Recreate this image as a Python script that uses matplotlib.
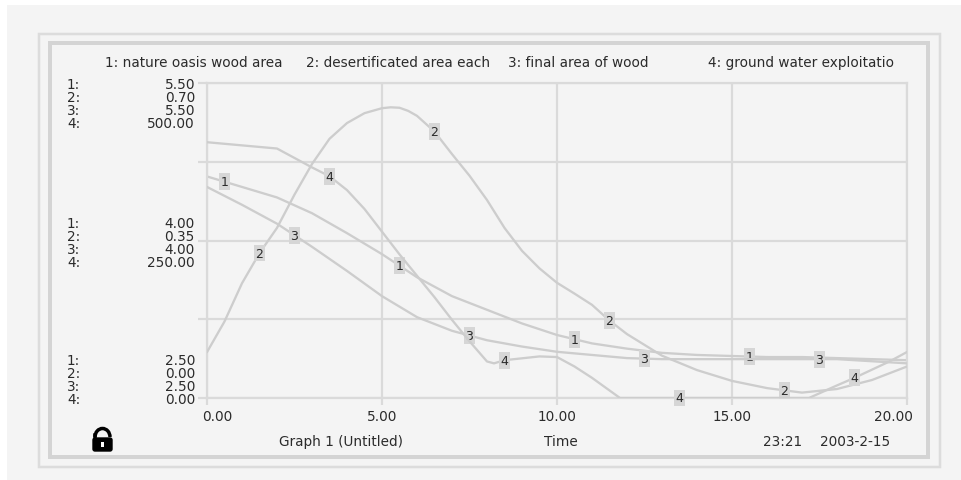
import numpy as np
import matplotlib
matplotlib.use('Agg')
import matplotlib.pyplot as plt
from matplotlib.patches import Rectangle, Arc, FancyBboxPatch
import matplotlib.transforms as mtransforms

plt.rcParams['font.family'] = ['DejaVu Sans']

# --- data ---
series_names = ['1: nature oasis wood area', '2: desertificated area each',
                '3: final area of wood', '4: ground water exploitatio']
scale_lo = [2.5, 0.0, 2.5, 0.0]
scale_hi = [5.5, 0.7, 5.5, 500.0]
scale_fmt = ['{:.2f}', '{:.2f}', '{:.2f}', '{:.2f}']

time_ticks = [0, 5, 10, 15, 20]
time_tick_labels = ['0.00', '5.00', '10.00', '15.00', '20.00']

t_oasis = [0, 1, 2, 3, 4, 5, 6, 7, 8, 9, 10, 11, 12, 13, 14, 15, 16, 17, 18, 19, 20]
oasis_wood = [4.61, 4.51, 4.41, 4.26, 4.07, 3.87, 3.65, 3.47, 3.34, 3.21, 3.10,
              3.02, 2.97, 2.93, 2.91, 2.90, 2.89, 2.89, 2.88, 2.87, 2.86]

t_desert = [0, 0.5, 1, 1.5, 2, 2.5, 3, 3.5, 4, 4.5, 5, 5.25, 5.5, 5.75, 6, 6.5, 7,
            7.5, 8, 8.5, 9, 9.5, 10, 10.5, 11, 11.5, 12, 13, 14, 15, 16, 17, 18, 19, 20]
desert_area = [0.102, 0.17, 0.255, 0.322, 0.378, 0.452, 0.52, 0.576, 0.611, 0.633,
               0.644, 0.646, 0.645, 0.638, 0.627, 0.592, 0.542, 0.494, 0.44, 0.378,
               0.327, 0.288, 0.256, 0.232, 0.207, 0.172, 0.142, 0.094, 0.062, 0.038,
               0.022, 0.012, 0.02, 0.04, 0.07]

t_final = [0, 1, 2, 3, 4, 5, 6, 7, 8, 9, 10, 11, 12, 13, 14, 15, 16, 17, 18, 19, 20]
final_wood = [4.51, 4.34, 4.16, 3.94, 3.71, 3.47, 3.27, 3.14, 3.05, 2.99, 2.94,
              2.91, 2.88, 2.87, 2.87, 2.87, 2.87, 2.87, 2.87, 2.85, 2.83]

t_water = [0, 1, 2, 2.5, 3, 3.5, 4, 4.5, 5, 5.5, 6, 6.5, 7, 7.5, 8, 8.2, 8.5, 9,
           9.5, 10, 10.5, 11, 11.5, 11.8, 17.2, 18, 18.5, 19, 19.5, 20]
water_exploit = [406, 401, 396, 381, 366, 352, 330, 300, 264, 228, 194, 160, 124,
                 90, 58, 55, 60, 63, 66, 65, 50, 32, 12, 0, 0, 20, 32, 45, 58, 73]

W, H = 962, 481
bg = '#f4f4f4'
grid_c = '#dadada'
line_c = '#cdcdcd'
txt_c = '#2b2b2b'
fs = 9.8
px = 0.72  # points per pixel at 100 dpi

fig = plt.figure(figsize=(W / 100, H / 100), dpi=100)
fig.patch.set_facecolor('white')

# decoration layer in pixel coordinates
deco = fig.add_axes([0, 0, 1, 1], zorder=0)
deco.set_xlim(0, W)
deco.set_ylim(H, 0)
deco.axis('off')
deco.add_patch(Rectangle((7, 6), W, H, fc=bg, ec='none'))
deco.add_patch(Rectangle((39, 35), 901, 433, fc='none', ec='#dcdcdc', lw=2.5 * px))
deco.add_patch(Rectangle((50, 44), 878, 414, fc='none', ec='#d4d4d4', lw=4 * px))

# header
for name, x in zip(series_names, [105, 306, 508, 708]):
    deco.text(x, 63, name, fontsize=fs, color=txt_c, ha='left', va='center')

# left scale blocks
block_rows = [[85, 98, 111, 124], [224, 237, 250, 263], [361, 374, 387, 400]]
block_frac = [1.0, 0.5, 0.0]
for rows, fr in zip(block_rows, block_frac):
    for i, y in enumerate(rows):
        val = scale_lo[i] + fr * (scale_hi[i] - scale_lo[i])
        deco.text(67, y, f'{i + 1}:', fontsize=fs, color=txt_c, ha='left', va='center')
        deco.text(195, y, scale_fmt[i].format(val), fontsize=fs, color=txt_c,
                  ha='right', va='center')

# footer
deco.text(279, 442, 'Graph 1 (Untitled)', fontsize=fs, color=txt_c, ha='left', va='center')
deco.text(561, 442, 'Time', fontsize=fs, color=txt_c, ha='center', va='center')
deco.text(763, 442, '23:21', fontsize=fs, color=txt_c, ha='left', va='center')
deco.text(820, 442, '2003-2-15', fontsize=fs, color=txt_c, ha='left', va='center')

# unlocked padlock icon
deco.add_patch(FancyBboxPatch((93, 439), 19, 13, boxstyle='round,pad=0,rounding_size=2',
                              fc='black', ec='black'))
deco.add_patch(Arc((102.5, 438), 15, 17, theta1=180, theta2=360, color='black', lw=3.5 * px))
deco.plot([95, 95], [438, 436], color='black', lw=3.5 * px)
deco.add_patch(Rectangle((101, 443), 3, 5, fc='white', ec='none'))

# plot area
rect = [207 / W, 1 - 399 / H, 700 / W, 315 / H]
ax = fig.add_axes(rect, zorder=1)
ax.set_facecolor('none')
ax.set_xlim(0, 20)
ax.set_ylim(scale_lo[0], scale_hi[0])
ax.set_xticks(time_ticks)
ax.set_xticklabels(time_tick_labels)
ax.set_yticks(np.linspace(scale_lo[0], scale_hi[0], 5))
ax.grid(True, color=grid_c, lw=2.2 * px)
for s in ax.spines.values():
    s.set_color(grid_c)
    s.set_linewidth(2.2 * px)
ax.tick_params(axis='y', length=9 * px, width=2.2 * px, color=grid_c, labelleft=False)
ax.tick_params(axis='x', length=7 * px, width=2.2 * px, color=grid_c,
               labelsize=fs, labelcolor=txt_c, pad=3)
labels = ax.get_xticklabels()
labels[0].set_ha('left')
labels[0].set_transform(labels[0].get_transform() +
                        mtransforms.ScaledTranslation(-5 / 100, 0, fig.dpi_scale_trans))
labels[-1].set_ha('right')
labels[-1].set_transform(labels[-1].get_transform() +
                         mtransforms.ScaledTranslation(6 / 100, 0, fig.dpi_scale_trans))

series_t = [t_oasis, t_desert, t_final, t_water]
series_v = [oasis_wood, desert_area, final_wood, water_exploit]
axes = [ax]
for i in range(1, 4):
    a = ax.twinx()
    a.set_ylim(scale_lo[i], scale_hi[i])
    a.axis('off')
    axes.append(a)

for a, t, v in zip(axes, series_t, series_v):
    a.plot(t, v, color=line_c, lw=2.3 * px, solid_capstyle='round',
           solid_joinstyle='round', zorder=2)

# numbered markers along each curve
for i, (a, t, v) in enumerate(zip(axes, series_t, series_v)):
    for j in range(4):
        tm = i + 0.5 + 5 * j
        a.text(tm, np.interp(tm, t, v), str(i + 1), fontsize=fs - 0.8, color=txt_c,
               ha='center', va='center', zorder=5,
               bbox=dict(boxstyle='square,pad=0.15', fc='#d6d6d6', ec='none'))

fig.savefig('out.png', dpi=100, facecolor=fig.get_facecolor())
